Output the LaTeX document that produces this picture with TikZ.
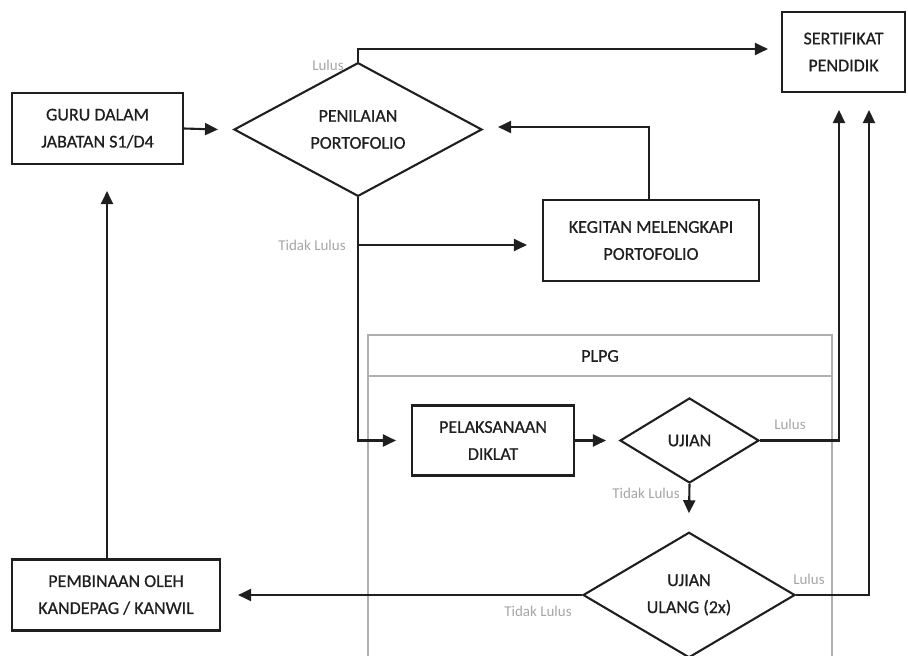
\documentclass[tikz,border=0pt]{standalone}
\usepackage{fontspec}
\setmainfont{Carlito}
\newfontfamily\heavyfont{Carlito}[RawFeature={embolden=0.7}]
\usetikzlibrary{shapes.geometric,arrows.meta}
\definecolor{ink}{HTML}{1F1F1F}
\definecolor{lblgray}{HTML}{A6A6A6}
\definecolor{framegray}{HTML}{AFAFAF}
\begin{document}
\begin{tikzpicture}[x=1pt,y=-1pt,
  every node/.style={text=ink},
  boxnode/.style={draw=ink,line width=2.1pt,rectangle,inner sep=0pt,align=center,
    font=\heavyfont\fontsize{18}{27}\selectfont},
  dianode/.style={draw=ink,line width=2.1pt,diamond,inner sep=0pt,align=center,
    font=\heavyfont\fontsize{18}{27}\selectfont},
  lbl/.style={text=lblgray,font=\fontsize{15}{18}\selectfont,inner sep=0pt},
  arr/.style={draw=ink,line width=2.1pt,-{Triangle[length=13pt,width=12pt]}},
  frame/.style={draw=framegray,line width=1.4pt}]
\useasboundingbox (0,0) rectangle (908,656);

% PLPG frame
\draw[frame] (368,660) |- (832,335) -- (832,660);
\draw[frame] (368,376) -- (832,376);
\node[font=\heavyfont\fontsize{18}{27}\selectfont,inner sep=0pt] (plpg) at (600,356) {PLPG};

% nodes
\node[boxnode,minimum width=171pt,minimum height=71pt] (guru) at (97.5,128.5) {GURU DALAM\\JABATAN S1/D4};
\node[dianode,minimum width=248pt,minimum height=107pt] (pen) at (358,129.5) {PENILAIAN\\PORTOFOLIO};
\node[boxnode,minimum width=123pt,minimum height=80pt] (sert) at (843.5,52) {SERTIFIKAT\\PENDIDIK};
\node[boxnode,minimum width=216pt,minimum height=81pt] (keg) at (651,240.5) {KEGITAN MELENGKAPI\\PORTOFOLIO};
\node[boxnode,minimum width=162pt,minimum height=70pt] (pel) at (493,440.5) {PELAKSANAAN\\DIKLAT};
\node[dianode,minimum width=139pt,minimum height=85pt] (ujian) at (689.5,440.5) {UJIAN};
\node[dianode,minimum width=212pt,minimum height=106pt] (ulang) at (689,595) {UJIAN\\ULANG (2x)};
\node[boxnode,minimum width=208pt,minimum height=71pt] (pemb) at (116,595) {PEMBINAAN OLEH\\KANDEPAG / KANWIL};

% helper coordinates
\coordinate (tl) at (358,245);
\coordinate (s1) at (839,110);
\coordinate (s2) at (869,110);
\coordinate (sl) at (358,49);
\coordinate (kt) at (649,127);

% connectors
\draw[arr] (guru.east) -- ([xshift=-15pt]pen.west);
\draw[arr] (pen.north) -- (sl) -- ([xshift=-13pt,yshift=3pt]sert.west);
\draw[arr] (pen.south) |- ([xshift=-15pt]pel.west);
\draw[arr] (tl) -- ([xshift=-15pt,yshift=-4.5pt]keg.west);
\draw[arr] ([xshift=-2pt]keg.north) -- (kt) -- ([xshift=15pt,yshift=2.5pt]pen.east);
\draw[arr] (pel.east) -- ([xshift=-13pt]ujian.west);
\draw[arr] (ujian.east) -| (s1);
\draw[arr] (ujian.south) -- ([yshift=18pt]ulang.north);
\draw[arr] (ulang.east) -| (s2);
\draw[arr] (ulang.west) -- ([xshift=17pt]pemb.east);
\draw[arr] ([xshift=-9pt]pemb.north) -- ([xshift=9.5pt,yshift=-26pt]guru.south);

% labels
\node[lbl] (l1) at (328,65) {Lulus};
\node[lbl] (l2) at (312,245) {Tidak Lulus};
\node[lbl] (l3) at (790,424) {Lulus};
\node[lbl] (l4) at (646,493) {Tidak Lulus};
\node[lbl] (l5) at (809,579) {Lulus};
\node[lbl] (l6) at (538,611) {Tidak Lulus};
\end{tikzpicture}
\end{document}
